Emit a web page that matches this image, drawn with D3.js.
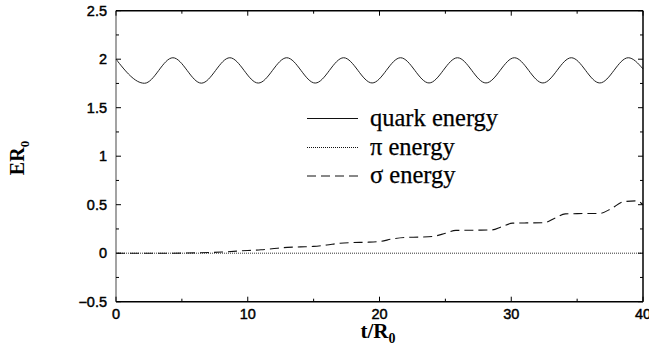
<!DOCTYPE html>
<html>
<head>
<meta charset="utf-8">
<script src="https://cdn.jsdelivr.net/npm/d3@7"></script>
<style>
  html, body { margin: 0; padding: 0; background: #fff; }
  svg { display: block; }
</style>
</head>
<body>
<svg id="chart" width="649" height="356"></svg>
<script>
// Quark energy: oscillation extrema (t, E·R0)
const quarkT = [0, 2.16, 4.32, 6.48, 8.64, 10.8, 12.96, 15.12, 17.28, 19.44, 21.6, 23.76, 25.92, 28.08, 30.24, 32.4, 34.56, 36.72, 38.88, 40];
const quarkE = [2.0, 1.752, 2.015, 1.753, 2.015, 1.754, 2.015, 1.754, 2.015, 1.755, 2.015, 1.755, 2.015, 1.755, 2.015, 1.755, 2.015, 1.755, 2.015, 1.90];

// Pion energy stays at zero
const piT = [0, 10, 20, 30, 40];
const piE = [0, 0, 0, 0, 0];

// Sigma energy: slow step-wise growth
const sigmaT = [0, 4, 6, 8, 10, 11, 12, 13, 14, 15, 16, 17, 18, 19, 20, 21, 22, 23, 24, 25, 25.8, 27, 28.5, 29.3, 30.1, 31, 32.5, 33.3, 34.1, 35, 36.7, 37.6, 38.5, 39.5, 40];
const sigmaE = [0, 0, 0.003, 0.012, 0.028, 0.035, 0.048, 0.06, 0.065, 0.07, 0.085, 0.103, 0.11, 0.113, 0.12, 0.148, 0.163, 0.166, 0.172, 0.205, 0.235, 0.237, 0.24, 0.275, 0.31, 0.312, 0.315, 0.36, 0.405, 0.408, 0.41, 0.46, 0.53, 0.54, 0.50];

const xTicks = [0, 10, 20, 30, 40];
const yTicks = [-0.5, 0, 0.5, 1, 1.5, 2, 2.5];
const yTickLabels = ["\u22120.5", "0", "0.5", "1", "1.5", "2", "2.5"];

const legendLabels = ["quark energy", "\u03c0 energy", "\u03c3 energy"];

const svg = d3.select("#chart");
const L = 116, R = 643, T = 10.7, B = 301.7;
const x = d3.scaleLinear().domain([0, 40]).range([L, R]);
const y = d3.scaleLinear().domain([-0.5, 2.5]).range([B, T]);

const tickFont = "'Liberation Sans', Arial, Helvetica, sans-serif";
const serif = "'Liberation Serif', 'Times New Roman', serif";

// Curves
const plot = svg.append("g");
const smooth = d3.line().x(d => x(d[0])).y(d => y(d[1])).curve(d3.curveMonotoneX);
const straight = d3.line().x(d => x(d[0])).y(d => y(d[1]));

plot.append("path")
  .attr("d", smooth(quarkT.map((t, i) => [t, quarkE[i]])))
  .attr("fill", "none").attr("stroke", "#222").attr("stroke-width", 1);

plot.append("path")
  .attr("d", straight(piT.map((t, i) => [t, piE[i]])))
  .attr("fill", "none").attr("stroke", "#333").attr("stroke-width", 1)
  .attr("stroke-dasharray", "1,1");

plot.append("path")
  .attr("d", smooth(sigmaT.map((t, i) => [t, sigmaE[i]])))
  .attr("fill", "none").attr("stroke", "#111").attr("stroke-width", 1.1)
  .attr("stroke-dasharray", "9,5");

// Frame
const frame = svg.append("g");
frame.append("line").attr("x1", L).attr("x2", L).attr("y1", T).attr("y2", B)
  .attr("stroke", "#666").attr("stroke-width", 1.2);
frame.append("line").attr("x1", L).attr("x2", R).attr("y1", B).attr("y2", B)
  .attr("stroke", "#000").attr("stroke-width", 1.5);
frame.append("line").attr("x1", L).attr("x2", R).attr("y1", T).attr("y2", T)
  .attr("stroke", "#000").attr("stroke-width", 1.5);
frame.append("line").attr("x1", R).attr("x2", R).attr("y1", T).attr("y2", B)
  .attr("stroke", "#000").attr("stroke-width", 1.5);

// Ticks (inward on all four sides; minor ticks halfway between)
const tg = svg.append("g").attr("stroke", "#000").attr("stroke-width", 1);
d3.range(0, 41, 5).forEach(v => {
  const len = v % 10 === 0 ? 5 : 3;
  tg.append("line").attr("x1", x(v)).attr("x2", x(v)).attr("y1", B).attr("y2", B - len);
  tg.append("line").attr("x1", x(v)).attr("x2", x(v)).attr("y1", T).attr("y2", T + len);
});
d3.range(-0.5, 2.51, 0.25).forEach(v => {
  const major = Math.abs(v * 2 - Math.round(v * 2)) < 1e-6;
  const len = major ? 5 : 3;
  tg.append("line").attr("x1", L).attr("x2", L + len).attr("y1", y(v)).attr("y2", y(v));
  tg.append("line").attr("x1", R).attr("x2", R - len).attr("y1", y(v)).attr("y2", y(v));
});

// Tick labels
svg.append("g").selectAll("text").data(xTicks).join("text")
  .attr("x", d => x(d)).attr("y", 319)
  .attr("text-anchor", "middle")
  .attr("font-family", tickFont).attr("font-size", 14.5)
  .attr("fill", "#000").attr("stroke", "#000").attr("stroke-width", 0.45)
  .text(d => d);

svg.append("g").selectAll("text").data(yTicks).join("text")
  .attr("x", 107).attr("y", d => y(d) + 5)
  .attr("text-anchor", "end")
  .attr("font-family", tickFont).attr("font-size", 14.5)
  .attr("fill", "#000").attr("stroke", "#000").attr("stroke-width", 0.45)
  .text((d, i) => yTickLabels[i]);

// Axis titles
const xt = svg.append("text")
  .attr("x", 378).attr("y", 338)
  .attr("text-anchor", "middle")
  .attr("font-family", serif).attr("font-weight", "bold").attr("font-size", 21);
xt.append("tspan").text("t/R");
xt.append("tspan").attr("font-size", 14).attr("dy", 5).text("0");

const yt = svg.append("text")
  .attr("transform", "translate(24,158) rotate(-90)")
  .attr("text-anchor", "middle")
  .attr("font-family", serif).attr("font-weight", "bold").attr("font-size", 20);
yt.append("tspan").text("ER");
yt.append("tspan").attr("font-size", 13).attr("dy", 5).text("0");

// Legend
const legendY = [118.5, 147.5, 176];
const legendDash = [null, "1,1", "9,5"];
const lg = svg.append("g");
legendLabels.forEach((lab, i) => {
  lg.append("line")
    .attr("x1", 307).attr("x2", 358)
    .attr("y1", legendY[i]).attr("y2", legendY[i])
    .attr("stroke", "#111").attr("stroke-width", 1)
    .attr("stroke-dasharray", legendDash[i]);
  lg.append("text")
    .attr("x", 370).attr("y", legendY[i] + 7)
    .attr("font-family", serif).attr("font-size", 24.5)
    .attr("fill", "#000").attr("stroke", "#000").attr("stroke-width", 0.25)
    .text(lab);
});
</script>
</body>
</html>
